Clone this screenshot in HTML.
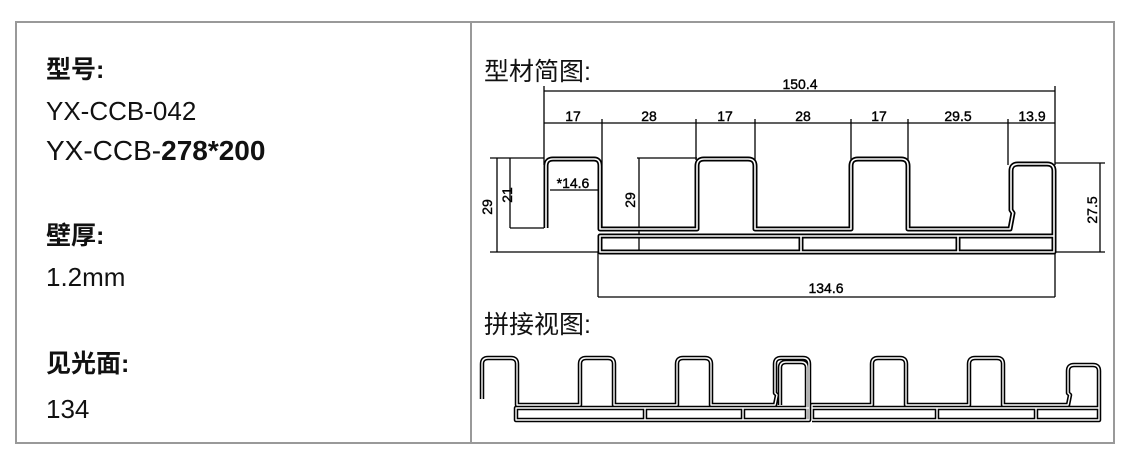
<!DOCTYPE html>
<html><head><meta charset="utf-8"><style>
html,body{margin:0;padding:0;background:#fff;width:1131px;height:463px;overflow:hidden}
.t{position:absolute;left:46px;font-family:"Liberation Sans","Noto Sans CJK SC",sans-serif;color:#111;white-space:nowrap;line-height:1}
.b{font-weight:bold;font-size:25px}
.n{font-size:26px}
</style></head><body>
<div style="position:absolute;left:15px;top:21px;width:1096px;height:419px;border:2px solid #999"></div>
<div style="position:absolute;left:470px;top:22px;width:2px;height:420px;background:#999"></div>
<div class="t b" style="top:58px">型号:</div>
<div class="t n" style="top:98px">YX-CCB-042</div>
<div class="t n" style="top:137px;font-size:28px">YX-CCB-<b>278*200</b></div>
<div class="t b" style="top:224px">壁厚:</div>
<div class="t n" style="top:264px">1.2mm</div>
<div class="t b" style="top:352px">见光面:</div>
<div class="t n" style="top:396px">134</div>
<svg width="1131" height="463" style="position:absolute;left:0;top:0" font-family="Liberation Sans,Noto Sans CJK SC,sans-serif">
<defs>
<path id="pp" d="M546,228 L546,166 Q546,159 553,159 L594,159 Q600,159 600,166 L600,229 L697,229 L697,166 Q697,159 704,159 L748,159 Q755,159 755,166 L755,229 L851,229 L851,166 Q851,159 858,159 L901,159 Q908,159 908,166 L908,229 L1010,229 L1013,213 L1011,210 L1011,171 Q1011,164 1018,164 L1047,164 Q1054,164 1054,171 L1054,252 L600,252 L600,236 L1054,236 M801,236 L801,252 M958,236 L958,252"/>
<path id="q" d="M482,399 L482,364 Q482,358 488,358 L511,358 Q517,358 517,364 L517,405 L580,405 L580,364 Q580,358 586,358 L608,358 Q614,358 614,364 L614,405 L677,405 L677,364 Q677,358 683,358 L705,358 Q711,358 711,364 L711,405 L775,405 L777,395 L775,393 L775,364 Q775,358 781,358 L803,358 Q809,358 809,364 L809,420 L516,420 L516,408 L809,408 M645,408 L645,420 M743,408 L743,420 M780,405 L780,368 Q780,362 786,362 L801,362 Q807,362 807,368 L807,420 M812,420 L812,405 L872,405 L872,364 Q872,358 878,358 L900,358 Q906,358 906,364 L906,405 L969,405 L969,364 Q969,358 975,358 L997,358 Q1003,358 1003,364 L1003,405 L1068,405 L1070,395 L1068,393 L1068,371 Q1068,365 1074,365 L1093,365 Q1099,365 1099,371 L1099,420 L812,420 M812,408 L1099,408 M937,408 L937,420 M1036,408 L1036,420"/>
</defs>
<text x="484" y="80" font-size="25" fill="#111">型材简图:</text>
<text x="484" y="333" font-size="25" fill="#111">拼接视图:</text>
<g stroke="#000" stroke-width="1.3" fill="none">
<line x1="544" y1="91" x2="1055" y2="91"/>
<line x1="544" y1="123" x2="1055" y2="123"/>
<line x1="544" y1="86" x2="544" y2="165"/>
<line x1="1055" y1="86" x2="1055" y2="165"/>
<line x1="602" y1="119" x2="602" y2="228"/><line x1="696" y1="119" x2="696" y2="160"/>
<line x1="755" y1="119" x2="755" y2="160"/><line x1="851" y1="119" x2="851" y2="160"/>
<line x1="908" y1="119" x2="908" y2="160"/><line x1="1008" y1="119" x2="1008" y2="165"/>
<line x1="490" y1="158" x2="544" y2="158"/>
<line x1="490" y1="252" x2="1105" y2="252"/>
<line x1="497" y1="158" x2="497" y2="252"/>
<line x1="510" y1="158" x2="510" y2="228"/><line x1="510" y1="228" x2="544" y2="228"/>
<line x1="550" y1="190" x2="598" y2="190"/>
<line x1="637" y1="158" x2="697" y2="158"/>
<line x1="639" y1="158" x2="639" y2="252"/>
<line x1="1055" y1="163" x2="1105" y2="163"/>
<line x1="1100" y1="163" x2="1100" y2="252"/>
<line x1="598" y1="252" x2="598" y2="297"/>
<line x1="1055" y1="252" x2="1055" y2="297"/>
<line x1="598" y1="297" x2="1055" y2="297"/>
</g>
<g font-size="14" fill="#000" text-anchor="middle" stroke="#000" stroke-width="0.4">
<text x="800" y="89">150.4</text>
<text x="573" y="121">17</text><text x="649" y="121">28</text><text x="725" y="121">17</text>
<text x="803" y="121">28</text><text x="879" y="121">17</text><text x="958" y="121">29.5</text><text x="1032" y="121">13.9</text>
<text x="573" y="188">*14.6</text>
<text x="826" y="293">134.6</text>
<text transform="translate(492,207) rotate(-90)">29</text>
<text transform="translate(512,195) rotate(-90)">21</text>
<text transform="translate(635,200) rotate(-90)">29</text>
<text transform="translate(1097,210) rotate(-90)">27.5</text>
</g>
<g fill="none" stroke-linejoin="round">
<use href="#pp" stroke="#000" stroke-width="5"/>
<use href="#pp" stroke="#fff" stroke-width="1.6"/>
<use href="#q" stroke="#000" stroke-width="4.5"/>
<use href="#q" stroke="#fff" stroke-width="1.4"/>
</g>
</svg>
</body></html>
